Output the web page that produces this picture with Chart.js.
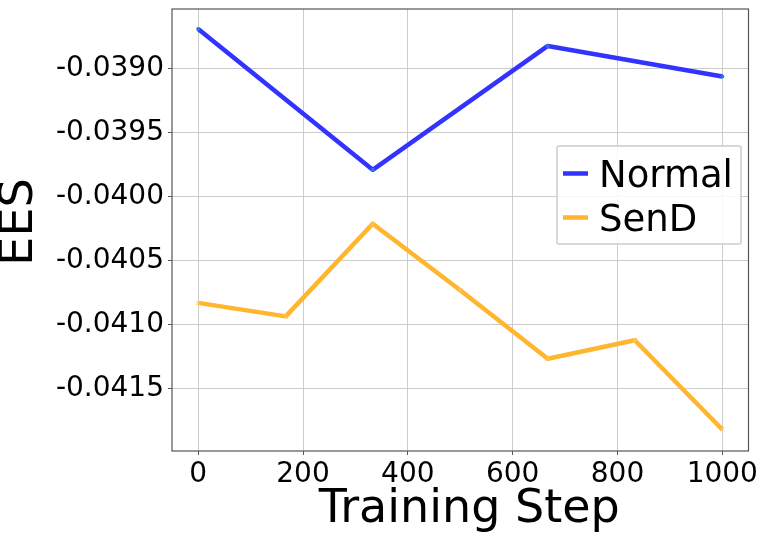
<!DOCTYPE html>
<html>
<head>
<meta charset="utf-8">
<script src="https://cdn.jsdelivr.net/npm/chart.js@4"></script>
<style>
  html, body { margin: 0; padding: 0; background: #ffffff; }
  #wrap { width: 760px; height: 540px; }
</style>
</head>
<body>
<div id="wrap"><canvas id="c" width="760" height="540"></canvas></div>
<script>
// ---- data ----
const normalSteps = [0, 333, 667, 1000];
const normalValues = [-0.038694, -0.039792, -0.038826, -0.039065];
const sendSteps = [0, 167, 333, 500, 667, 833, 1000];
const sendValues = [-0.04083, -0.040935, -0.040213, -0.040732, -0.041266, -0.041121, -0.041817];
const xTicks = [0, 200, 400, 600, 800, 1000];
const yTicks = [-0.0415, -0.0410, -0.0405, -0.0400, -0.0395, -0.0390];
const seriesNames = ['Normal', 'SenD'];
const xTitle = 'Training Step';
const yTitle = 'EES';

const FONT = "'DejaVu Sans', 'Liberation Sans', sans-serif";
const BLUE = 'rgb(51,51,255)';
const ORANGE = 'rgb(255,181,46)';

const toPts = (xs, ys) => xs.map((x, i) => ({ x: x, y: ys[i] }));

// shift an axis title by (dx, dy) pixels
function shiftTitle(scale, dx, dy) {
  if (scale._titleShifted) return;
  scale._titleShifted = true;
  const orig = scale.drawTitle;
  scale.drawTitle = function () {
    const ctx = this.ctx;
    ctx.save();
    ctx.translate(dx, dy);
    orig.apply(this, arguments);
    ctx.restore();
  };
}

const framePlugin = {
  id: 'frame',
  afterDatasetsDraw(chart) {
    const { ctx, chartArea: a } = chart;
    ctx.save();
    ctx.strokeStyle = '#555555';
    ctx.lineWidth = 1.2;
    ctx.strokeRect(a.left, a.top, a.right - a.left, a.bottom - a.top);
    ctx.restore();
  }
};

const legendPlugin = {
  id: 'boxLegend',
  afterDraw(chart) {
    const { ctx } = chart;
    const box = { left: 557, top: 146, right: 741, bottom: 244 };
    const baselines = [187, 231];
    const lineMid = [173.5, 217.5];
    ctx.save();
    ctx.fillStyle = 'rgba(255,255,255,0.85)';
    ctx.strokeStyle = '#cccccc';
    ctx.lineWidth = 1.5;
    ctx.beginPath();
    if (ctx.roundRect) {
      ctx.roundRect(box.left, box.top, box.right - box.left, box.bottom - box.top, 2);
    } else {
      ctx.rect(box.left, box.top, box.right - box.left, box.bottom - box.top);
    }
    ctx.fill();
    ctx.stroke();
    chart.data.datasets.forEach((ds, i) => {
      ctx.strokeStyle = ds.borderColor;
      ctx.lineWidth = 4.5;
      ctx.lineCap = 'butt';
      ctx.beginPath();
      ctx.moveTo(563, lineMid[i]);
      ctx.lineTo(588, lineMid[i]);
      ctx.stroke();
      ctx.fillStyle = '#000000';
      ctx.font = '37px ' + FONT;
      ctx.textAlign = 'left';
      ctx.textBaseline = 'alphabetic';
      ctx.fillText(ds.label, 599, baselines[i]);
    });
    ctx.restore();
  }
};

new Chart(document.getElementById('c'), {
  type: 'line',
  data: {
    datasets: [
      {
        label: seriesNames[0],
        data: toPts(normalSteps, normalValues),
        borderColor: BLUE,
        backgroundColor: 'rgb(40,120,220)',
        borderWidth: 4.5,
        borderJoinStyle: 'round',
        pointRadius: 2,
        pointBorderWidth: 0,
        pointBackgroundColor: 'rgb(40,120,220)',
        pointStyle: 'circle',
        tension: 0,
        fill: false
      },
      {
        label: seriesNames[1],
        data: toPts(sendSteps, sendValues),
        borderColor: ORANGE,
        backgroundColor: 'rgb(255,200,120)',
        borderWidth: 4.5,
        borderJoinStyle: 'round',
        pointRadius: 3,
        pointBorderWidth: 1,
        pointBorderColor: 'rgb(255,200,120)',
        pointStyle: 'crossRot',
        tension: 0,
        fill: false
      }
    ]
  },
  options: {
    responsive: false,
    animation: false,
    events: [],
    layout: { padding: { top: 9, right: 11.5, left: 0, bottom: 0 } },
    plugins: {
      legend: { display: false },
      tooltip: { enabled: false }
    },
    scales: {
      x: {
        type: 'linear',
        min: -50,
        max: 1050,
        afterBuildTicks(scale) { scale.ticks = xTicks.map(v => ({ value: v })); },
        afterFit(scale) {
          scale.height = 89; scale.paddingLeft = 0; scale.paddingRight = 0;
          shiftTitle(scale, 9, 0);
        },
        grid: {
          color: '#cccccc',
          lineWidth: 1,
          drawTicks: true,
          tickLength: 4,
          tickColor: '#555555'
        },
        border: { display: false },
        ticks: {
          color: '#000000',
          padding: 3,
          maxRotation: 0,
          autoSkip: false,
          font: { family: FONT, size: 28 },
          callback: v => String(v)
        },
        title: {
          display: true,
          text: xTitle,
          color: '#000000',
          font: { family: FONT, size: 46, lineHeight: 1 },
          padding: { top: 0, bottom: 7 }
        }
      },
      y: {
        type: 'linear',
        min: -0.041985,
        max: -0.038538,
        afterBuildTicks(scale) { scale.ticks = yTicks.map(v => ({ value: v })); },
        afterFit(scale) {
          scale.width = 172; scale.paddingTop = 0; scale.paddingBottom = 0;
          shiftTitle(scale, 0, -8);
        },
        grid: {
          color: '#cccccc',
          lineWidth: 1,
          drawTicks: true,
          tickLength: 4,
          tickColor: '#555555'
        },
        border: { display: false },
        ticks: {
          color: '#000000',
          padding: 4,
          autoSkip: false,
          font: { family: FONT, size: 28 },
          callback: v => Number(v).toFixed(4)
        },
        title: {
          display: true,
          text: yTitle,
          color: '#000000',
          font: { family: FONT, size: 46, lineHeight: 0.88 },
          padding: { top: 0, bottom: 0 }
        }
      }
    }
  },
  plugins: [framePlugin, legendPlugin]
});
</script>
</body>
</html>
